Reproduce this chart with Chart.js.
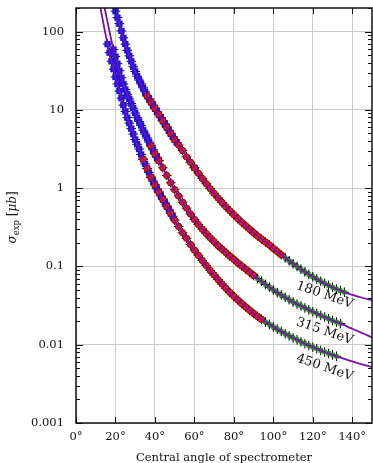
<!DOCTYPE html>
<html>
<head>
<meta charset="utf-8">
<script src="https://cdn.jsdelivr.net/npm/chart.js@4.4.0/dist/chart.umd.min.js"></script>
<style>
  html, body { margin: 0; padding: 0; background: #fff; }
</style>
</head>
<body>
<canvas id="chart" width="373" height="463"></canvas>
<script>
// Elastic cross sections vs. central spectrometer angle, three beam energies.
// Angles in degrees, cross sections in microbarn.
const angle180 = [19, 20, 21, 22, 23, 24, 25, 26, 27, 28, 29, 30, 31, 32, 33, 34, 35, 36, 37, 38, 39, 40,
  41, 42, 43, 44, 45, 46, 47, 48, 49, 50, 51, 52, 54, 56, 58, 60, 62, 64, 66, 68, 70, 72, 74, 76, 78, 80,
  82, 84, 86, 88, 90, 92, 94, 96, 98, 100, 102, 104, 106, 108, 110, 112, 114, 116, 118, 120, 122, 124,
  126, 128, 130, 132, 134, 136, 138, 140, 145, 150];
const sigma180 = [224, 182, 151, 126, 102, 83.2, 69.2, 57.5, 49.0, 41.7, 35.5, 30.9, 26.9, 24.0, 21.4, 19.1,
  17.0, 15.1, 13.8, 12.6, 11.5, 10.5, 9.55, 8.71, 7.94, 7.24, 6.61, 6.03, 5.50, 5.01, 4.57, 4.17, 3.85,
  3.55, 3.02, 2.51, 2.14, 1.82, 1.55, 1.33, 1.14, 0.986, 0.857, 0.748, 0.656, 0.578, 0.513, 0.457, 0.408,
  0.366, 0.330, 0.298, 0.270, 0.245, 0.224, 0.205, 0.188, 0.170, 0.155, 0.141, 0.129, 0.118, 0.108, 0.100,
  0.0920, 0.0851, 0.0791, 0.0736, 0.0689, 0.0646, 0.0607, 0.0573, 0.0542, 0.0514, 0.0490, 0.0468, 0.0449,
  0.0432, 0.0398, 0.0372];

const angle315 = [14, 15, 16, 17, 18, 19, 20, 21, 22, 23, 24, 25, 26, 27, 28, 29, 30, 31, 32, 33, 34, 35,
  36, 37, 38, 39, 40, 41, 42, 44, 46, 48, 50, 52, 54, 56, 58, 60, 62, 64, 66, 68, 70, 72, 74, 76, 78, 80,
  82, 84, 86, 88, 90, 92, 94, 96, 98, 100, 102, 104, 106, 108, 110, 112, 114, 116, 118, 120, 122, 124,
  126, 128, 130, 132, 134, 136, 138, 140, 145, 150];
const sigma315 = [229, 174, 132, 100, 75.9, 58.9, 47.9, 38.9, 31.6, 25.7, 21.4, 18.2, 15.8, 13.8, 12.0, 10.5,
  9.12, 7.94, 7.08, 6.31, 5.50, 4.90, 4.37, 3.89, 3.47, 3.09, 2.75, 2.48, 2.24, 1.82, 1.45, 1.17, 0.955,
  0.794, 0.661, 0.556, 0.468, 0.398, 0.343, 0.299, 0.263, 0.232, 0.207, 0.184, 0.166, 0.150, 0.135, 0.123,
  0.111, 0.101, 0.0923, 0.0841, 0.0767, 0.0700, 0.0646, 0.0589, 0.0543, 0.0501, 0.0462, 0.0432, 0.0403,
  0.0376, 0.0351, 0.0331, 0.0313, 0.0295, 0.0279, 0.0263, 0.0251, 0.0237, 0.0226, 0.0214, 0.0204, 0.0195,
  0.0186, 0.0178, 0.0168, 0.0160, 0.0141, 0.0124];

const angle450 = [12, 13, 14, 15, 16, 17, 18, 19, 20, 21, 22, 23, 24, 25, 26, 27, 28, 29, 30, 31, 32, 33,
  34, 35, 36, 37, 38, 39, 40, 41, 42, 43, 44, 45, 46, 47, 48, 49, 50, 52, 54, 56, 58, 60, 62, 64, 66, 68,
  70, 72, 74, 76, 78, 80, 82, 84, 86, 88, 90, 92, 94, 96, 98, 100, 102, 104, 106, 108, 110, 112, 114, 116,
  118, 120, 122, 124, 126, 128, 130, 132, 134, 136, 138, 140, 145, 150];
const sigma450 = [229, 166, 123, 91.2, 69.2, 53.7, 41.7, 33.1, 26.3, 21.4, 17.4, 14.1, 11.5, 9.55, 7.94, 6.76,
  5.75, 4.90, 4.17, 3.63, 3.16, 2.69, 2.34, 2.04, 1.78, 1.58, 1.38, 1.23, 1.10, 0.977, 0.891, 0.794, 0.724,
  0.661, 0.589, 0.537, 0.479, 0.437, 0.389, 0.324, 0.269, 0.229, 0.191, 0.162, 0.139, 0.119, 0.103, 0.0889,
  0.0776, 0.0679, 0.0596, 0.0525, 0.0465, 0.0415, 0.0372, 0.0335, 0.0303, 0.0275, 0.0251, 0.0230, 0.0211,
  0.0195, 0.0182, 0.0169, 0.0158, 0.0148, 0.0138, 0.0130, 0.0122, 0.0116, 0.0109, 0.0103, 0.00979, 0.00931,
  0.00887, 0.00845, 0.00807, 0.00773, 0.00741, 0.00711, 0.00684, 0.00658, 0.00634, 0.00611, 0.00561, 0.00518];

// angle ranges covered by each measurement setting (blue / red / green)
const blue180 = [[20, 51], [60, 60]];
const red180 = [[36, 104]];
const green180 = [[106, 136]];
const blue315 = [[19, 42]];
const red315 = [[38, 90]];
const green315 = [[92, 134]];
const blue450 = [[16, 49]];
const red450 = [[34, 94]];
const green450 = [[96, 132]];

const energyLabels = ['180 MeV', '315 MeV', '450 MeV'];
const labelAngle = [126, 126, 126];
const labelSigma = [0.043, 0.0148, 0.0051];

const xTicks = [0, 20, 40, 60, 80, 100, 120, 140];
const yTicks = [0.001, 0.01, 0.1, 1, 10, 100];
const yTickLabels = ['0.001', '0.01', '0.1', '1', '10', '100'];

const SERIF = '"DejaVu Serif", serif';
const PURPLE = '#7a12a8';

function pick(angles, sigmas, ranges, evenOnly) {
  const pts = [];
  angles.forEach((a, i) => {
    if (evenOnly && a % 2 !== 0) return;
    if (ranges.some(r => a >= r[0] && a <= r[1])) pts.push({ x: a, y: sigmas[i] });
  });
  return pts;
}

const series = [
  { angles: angle180, sigmas: sigma180, blue: blue180, red: red180, green: green180 },
  { angles: angle315, sigmas: sigma315, blue: blue315, red: red315, green: green315 },
  { angles: angle450, sigmas: sigma450, blue: blue450, red: red450, green: green450 }
];

const datasets = [];
series.forEach(s => {
  const bluePts = pick(s.angles, s.sigmas, s.blue, false);
  const redPts = pick(s.angles, s.sigmas, s.red, true);
  const greenPts = pick(s.angles, s.sigmas, s.green, true);

  // theory curve
  datasets.push({
    data: s.angles.map((a, i) => ({ x: a, y: s.sigmas[i] })),
    showLine: true,
    borderColor: PURPLE,
    borderWidth: 1.8,
    pointRadius: 0,
    cubicInterpolationMode: 'monotone',
    order: 0
  });
  datasets.push({
    data: greenPts,
    pointStyle: 'rect',
    pointRadius: 2.8,
    backgroundColor: '#1fa51f',
    borderColor: '#168016',
    borderWidth: 0.5,
    order: 1
  });
  datasets.push({
    data: redPts,
    pointStyle: 'circle',
    pointRadius: 3.2,
    backgroundColor: '#e81c1c',
    borderColor: '#9a0000',
    borderWidth: 1,
    order: 2
  });
  datasets.push({
    data: bluePts,
    pointStyle: 'rect',
    pointRadius: 4.5,
    backgroundColor: '#1414ee',
    borderColor: '#1414ee',
    borderWidth: 0,
    order: 3
  });
  // error marks behind every measured point
  datasets.push({
    data: bluePts.concat(redPts, greenPts),
    pointStyle: 'cross',
    pointRadius: 4.8,
    borderColor: '#000',
    borderWidth: 1,
    order: 4
  });
});

const decorations = {
  id: 'decorations',
  afterDraw(chart) {
    const { ctx, chartArea: a, scales: { x, y } } = chart;
    ctx.save();
    ctx.strokeStyle = '#111';
    ctx.lineWidth = 1;

    const seg = (x1, y1, x2, y2) => {
      ctx.beginPath();
      ctx.moveTo(x1, y1);
      ctx.lineTo(x2, y2);
      ctx.stroke();
    };

    // inward ticks on bottom and top
    xTicks.forEach(v => {
      const px = Math.round(x.getPixelForValue(v)) + 0.5;
      seg(px, a.bottom, px, a.bottom - 6);
      seg(px, a.top, px, a.top + 6);
    });

    // log ticks on left and right, majors longer
    yTicks.forEach(d => {
      for (let m = 1; m <= 9; m++) {
        const v = d * m;
        if (v > 200) break;
        const py = Math.round(y.getPixelForValue(v)) + 0.5;
        const len = m === 1 ? 7 : 4;
        seg(a.left, py, a.left + len, py);
        seg(a.right, py, a.right - len, py);
      }
    });

    // frame
    ctx.lineWidth = 1.5;
    ctx.strokeRect(a.left, a.top, a.right - a.left, a.bottom - a.top);

    ctx.fillStyle = '#111';

    // x title
    ctx.font = '11.5px ' + SERIF;
    ctx.textAlign = 'center';
    ctx.textBaseline = 'alphabetic';
    ctx.fillText('Central angle of spectrometer', (a.left + a.right) / 2, 460.5);

    // y title: sigma_exp [mu b]
    const parts = [
      { t: '\u03C3', f: 'italic 12px ' + SERIF, dy: 0 },
      { t: 'exp', f: '8.5px ' + SERIF, dy: 3 },
      { t: ' [', f: '12px ' + SERIF, dy: 0 },
      { t: '\u03BCb', f: 'italic 12px ' + SERIF, dy: 0 },
      { t: ']', f: '12px ' + SERIF, dy: 0 }
    ];
    let total = 0;
    parts.forEach(p => { ctx.font = p.f; p.w = ctx.measureText(p.t).width; total += p.w; });
    ctx.save();
    ctx.translate(16, (a.top + a.bottom) / 2 + 2);
    ctx.rotate(-Math.PI / 2);
    ctx.textAlign = 'left';
    let cx = -total / 2;
    parts.forEach(p => {
      ctx.font = p.f;
      ctx.fillText(p.t, cx, p.dy);
      cx += p.w;
    });
    ctx.restore();

    // energy labels along the curves
    ctx.font = '13px ' + SERIF;
    ctx.textAlign = 'center';
    ctx.textBaseline = 'middle';
    energyLabels.forEach((lab, i) => {
      ctx.save();
      ctx.translate(x.getPixelForValue(labelAngle[i]), y.getPixelForValue(labelSigma[i]));
      ctx.rotate(19 * Math.PI / 180);
      ctx.fillText(lab, 0, 0);
      ctx.restore();
    });

    ctx.restore();
  }
};

new Chart(document.getElementById('chart'), {
  type: 'scatter',
  data: { datasets },
  plugins: [decorations],
  options: {
    responsive: false,
    animation: false,
    devicePixelRatio: 1,
    events: [],
    layout: { autoPadding: false, padding: { top: 8, right: 1, left: 0, bottom: 0 } },
    plugins: {
      legend: { display: false },
      tooltip: { enabled: false }
    },
    scales: {
      x: {
        type: 'linear',
        min: 0,
        max: 150,
        afterBuildTicks: s => { s.ticks = xTicks.map(v => ({ value: v })); },
        afterFit: s => { s.height = 40; s.paddingLeft = 0; s.paddingRight = 0; },
        grid: { color: '#cccccc', lineWidth: 1, drawTicks: false },
        border: { display: false },
        ticks: {
          padding: 7,
          maxRotation: 0,
          autoSkip: false,
          color: '#111',
          font: { family: SERIF, size: 11.5 },
          callback: v => v + '\u00B0'
        }
      },
      y: {
        type: 'logarithmic',
        min: 0.001,
        max: 200,
        afterBuildTicks: s => { s.ticks = yTicks.map(v => ({ value: v })); },
        afterFit: s => { s.width = 76; s.paddingTop = 0; s.paddingBottom = 0; },
        grid: { color: '#cccccc', lineWidth: 1, drawTicks: false },
        border: { display: false },
        ticks: {
          padding: 12,
          autoSkip: false,
          color: '#111',
          font: { family: SERIF, size: 11.5 },
          callback: (v, i) => yTickLabels[i]
        }
      }
    }
  }
});
</script>
</body>
</html>
